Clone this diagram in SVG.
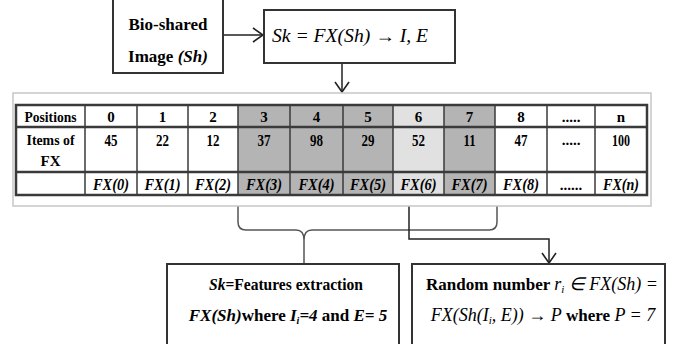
<svg xmlns="http://www.w3.org/2000/svg" width="699" height="344" viewBox="0 0 699 344">
<style>
.box{fill:#fff;stroke:#333;stroke-width:2}
.grid{stroke:#3a3a3a;stroke-width:1.5;fill:none}
.thick{stroke:#3a3a3a;stroke-width:2.5;fill:none}
.conn{fill:none;stroke:#222;stroke-width:1.5}
.conn2{fill:none;stroke:#555;stroke-width:1.5}
.t{font-family:"Liberation Serif","Times New Roman",serif;font-weight:bold;font-size:15px;fill:#000;text-anchor:middle}
.n{font-size:17px}
.fx{font-family:"Liberation Serif","Times New Roman",serif;font-weight:bold;font-style:italic;font-size:16px;fill:#000;text-anchor:middle}
.lbl{font-family:"Liberation Serif","Times New Roman",serif;font-weight:bold;font-size:17px;fill:#000}
.m{font-family:"Liberation Serif","Times New Roman",serif;font-style:italic;font-size:18px;fill:#000}
.bi{font-style:italic}
.nb{font-weight:normal}
.dk{fill:#b4b4b4}
.lt{fill:#e1e1e1}
</style>
<defs>
<marker id="ah" viewBox="0 0 12 16" refX="11" refY="8" markerWidth="12" markerHeight="16" markerUnits="userSpaceOnUse" orient="auto">
<path d="M1,1 L11,8 L1,15" fill="none" stroke="#222" stroke-width="1.6"/>
</marker>
</defs>

<g id="connectors">
<line class="conn" x1="223" y1="35" x2="263" y2="35" marker-end="url(#ah)"/>
<line class="conn" x1="342" y1="63" x2="342" y2="92" marker-end="url(#ah)"/>
<path class="conn2" d="M238,195 V222 Q238,230 246,230 H296 Q304,230 304,240 V264 M497,195 V222 Q497,230 489,230 H312 Q304,230 304,240"/>
<path class="conn" d="M409,195 V239 H549 V263" marker-end="url(#ah)"/>
</g>

<g id="bio-image">
<rect class="box" x="113" y="-2" width="110" height="75"/>
<text class="lbl" x="168" y="30" text-anchor="middle">Bio-shared</text>
<text class="lbl" x="168" y="62" text-anchor="middle">Image <tspan class="bi">(Sh)</tspan></text>
</g>

<g id="formula">
<rect class="box" x="264" y="10" width="191" height="53"/>
<text class="m" x="272" y="42" textLength="156" lengthAdjust="spacingAndGlyphs">Sk = FX(Sh) → I, E</text>
</g>

<g id="table">
<rect x="13" y="93" width="638" height="113" fill="#fff" stroke="#c6c6c6" stroke-width="1.5"/>
<rect class="dk" x="238" y="105" width="155" height="90"/>
<rect class="lt" x="393" y="105" width="51" height="90"/>
<rect class="dk" x="444" y="105" width="51" height="90"/>
<g class="grid">
<line x1="85" y1="105" x2="85" y2="195"/>
<line x1="137" y1="105" x2="137" y2="195"/>
<line x1="188" y1="105" x2="188" y2="195"/>
<line x1="238" y1="105" x2="238" y2="195"/>
<line x1="290" y1="105" x2="290" y2="195"/>
<line x1="343" y1="105" x2="343" y2="195"/>
<line x1="393" y1="105" x2="393" y2="195"/>
<line x1="444" y1="105" x2="444" y2="195"/>
<line x1="495" y1="105" x2="495" y2="195"/>
<line x1="547" y1="105" x2="547" y2="195"/>
<line x1="595" y1="105" x2="595" y2="195"/>
</g>
<line class="thick" x1="16" y1="127" x2="647" y2="127"/>
<line class="thick" x1="16" y1="172" x2="647" y2="172" stroke-width="3"/>
<rect class="thick" x="16" y="105" width="631" height="90" stroke-width="2"/>

<text class="t" x="50.5" y="122" textLength="52" lengthAdjust="spacingAndGlyphs">Positions</text>
<text class="t" x="111" y="122">0</text>
<text class="t" x="162.5" y="122">1</text>
<text class="t" x="213" y="122">2</text>
<text class="t" x="264" y="122">3</text>
<text class="t" x="316.5" y="122">4</text>
<text class="t" x="368" y="122">5</text>
<text class="t" x="418.5" y="122">6</text>
<text class="t" x="469.5" y="122">7</text>
<text class="t" x="521" y="122">8</text>
<text class="t" x="571" y="122">.....</text>
<text class="t" x="621" y="122">n</text>

<text class="t" x="50.5" y="145" textLength="48" lengthAdjust="spacingAndGlyphs">Items of</text>
<text class="t" x="50.5" y="166">FX</text>
<text class="t n" x="111" y="146" textLength="13" lengthAdjust="spacingAndGlyphs">45</text>
<text class="t n" x="162.5" y="146" textLength="13" lengthAdjust="spacingAndGlyphs">22</text>
<text class="t n" x="213" y="146" textLength="13" lengthAdjust="spacingAndGlyphs">12</text>
<text class="t n" x="264" y="146" textLength="13" lengthAdjust="spacingAndGlyphs">37</text>
<text class="t n" x="316.5" y="146" textLength="13" lengthAdjust="spacingAndGlyphs">98</text>
<text class="t n" x="368" y="146" textLength="13" lengthAdjust="spacingAndGlyphs">29</text>
<text class="t n" x="418.5" y="146" textLength="13" lengthAdjust="spacingAndGlyphs">52</text>
<text class="t n" x="469.5" y="146" textLength="12" lengthAdjust="spacingAndGlyphs">11</text>
<text class="t n" x="521" y="146" textLength="13" lengthAdjust="spacingAndGlyphs">47</text>
<text class="t" x="571" y="145">.....</text>
<text class="t n" x="621" y="146" textLength="18" lengthAdjust="spacingAndGlyphs">100</text>

<text class="fx" x="111" y="190" textLength="36" lengthAdjust="spacingAndGlyphs">FX(0)</text>
<text class="fx" x="162.5" y="190" textLength="36" lengthAdjust="spacingAndGlyphs">FX(1)</text>
<text class="fx" x="213" y="190" textLength="36" lengthAdjust="spacingAndGlyphs">FX(2)</text>
<text class="fx" x="264" y="190" textLength="36" lengthAdjust="spacingAndGlyphs">FX(3)</text>
<text class="fx" x="316.5" y="190" textLength="36" lengthAdjust="spacingAndGlyphs">FX(4)</text>
<text class="fx" x="368" y="190" textLength="36" lengthAdjust="spacingAndGlyphs">FX(5)</text>
<text class="fx" x="418.5" y="190" textLength="36" lengthAdjust="spacingAndGlyphs">FX(6)</text>
<text class="fx" x="469.5" y="190" textLength="36" lengthAdjust="spacingAndGlyphs">FX(7)</text>
<text class="fx" x="521" y="190" textLength="36" lengthAdjust="spacingAndGlyphs">FX(8)</text>
<text class="t" x="571" y="190">......</text>
<text class="fx" x="621" y="190" textLength="36" lengthAdjust="spacingAndGlyphs">FX(n)</text>
</g>

<g id="features-box">
<rect class="box" x="167" y="264" width="232" height="84"/>
<text class="lbl" x="286" y="290" text-anchor="middle" textLength="154" lengthAdjust="spacingAndGlyphs"><tspan class="bi">Sk</tspan>=Features extraction</text>
<text class="lbl" x="288" y="321" text-anchor="middle" font-size="15.5"><tspan class="bi">FX(Sh)</tspan>where <tspan class="bi">I<tspan font-size="10" dy="3">i</tspan><tspan dy="-3">=4</tspan></tspan> and <tspan class="bi">E= 5</tspan></text>
</g>

<g id="random-box">
<rect class="box" x="412" y="264" width="253" height="84"/>
<text class="lbl" x="542" y="290" text-anchor="middle">Random number <tspan class="m nb">r<tspan font-size="11" dy="3">i</tspan><tspan dy="-3"> ∈ FX(Sh) =</tspan></tspan></text>
<text class="lbl" x="543" y="321" text-anchor="middle"><tspan class="m nb">FX(Sh(I<tspan font-size="11" dy="3">i</tspan><tspan dy="-3">, E)) → P</tspan></tspan> where <tspan class="m nb">P = 7</tspan></text>
</g>
</svg>
